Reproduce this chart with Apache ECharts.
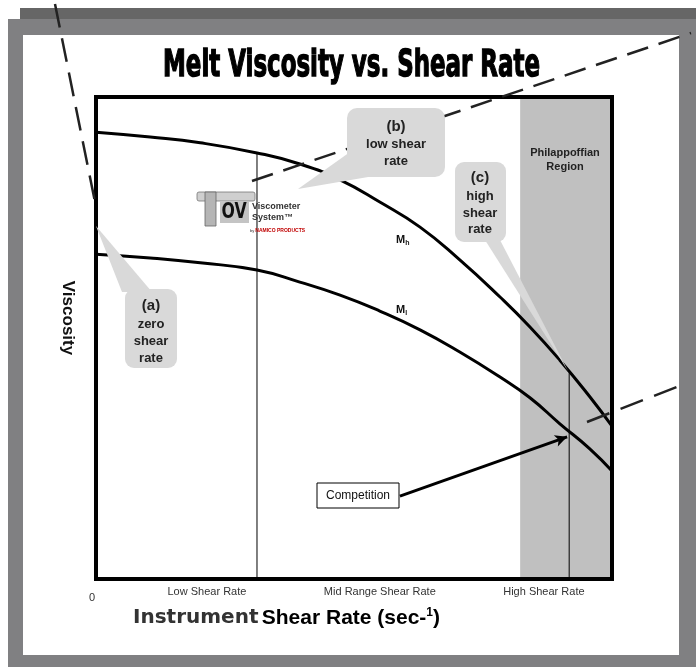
<!DOCTYPE html>
<html>
<head>
<meta charset="utf-8">
<script src="https://cdn.jsdelivr.net/npm/echarts@6/dist/echarts.min.js"></script>
<style>
  html, body { margin: 0; padding: 0; background: #fff; }
  #chart { width: 696px; height: 667px; }
</style>
</head>
<body>
<div id="chart"></div>
<script>
// x = shear rate, y = viscosity, both in arbitrary units (0-100 across the plot box)
const shearRate = [0, 10.5, 20.2, 31.2, 39.5, 47.3, 55.0, 62.8, 70.5, 78.3, 84.1, 89.9, 95.7, 100]
const viscosityMh = [92.7, 91.7, 90.5, 88.4, 86.1, 82.8, 78.2, 73.0, 66.2, 58.5, 52.3, 45.4, 37.8, 31.7]
const viscosityMl = [67.4, 66.6, 65.6, 64.1, 61.6, 58.9, 55.6, 51.7, 47.1, 41.9, 37.6, 32.2, 27.0, 22.4]
const tickValues = [0, 21.5, 55, 86.8]
const tickLabels = ['0', 'Low Shear Rate', 'Mid Range Shear Rate', 'High Shear Rate']
const regionStart = 82.2 // Philappoffian region up to the end of the axis
const lowShearGuide = [[31.2, 88.4], [31.2, 0]]
const highShearGuide = [[91.7, 42.7], [91.7, 0]]
const competitionArrow = [[58.9, 17.2], [91.3, 29.5]]

const title = 'Melt Viscosity vs. Shear Rate'
const titleFont = 'bold 38px "DejaVu Sans"'
const ctx = document.createElement('canvas').getContext('2d')
ctx.font = titleFont
const titleScale = 377 / ctx.measureText(title).width

const zip = (xs, ys) => xs.map((x, i) => [x, ys[i]])

const boxFill = '#d9d9d9'
const txt = (x, y, text, size, extra) => Object.assign({
  type: 'text', x: x, y: y, z: 100,
  style: { text: text, fill: '#222', font: 'bold ' + size + 'px "Liberation Sans", Arial', align: 'center', verticalAlign: 'middle' }
}, extra || {})
const dashed = (x1, y1, x2, y2, dash) => ({
  type: 'line', z: 85,
  shape: { x1: x1, y1: y1, x2: x2, y2: y2 },
  style: { stroke: '#222', lineWidth: 2.5, lineDash: dash }
})

const frame = [
  { type: 'rect', z: -10, shape: { x: 20, y: 8, width: 676, height: 12 }, style: { fill: '#666666' } },
  { type: 'rect', z: -10, shape: { x: 8, y: 19, width: 688, height: 648 }, style: { fill: '#808082' } },
  { type: 'rect', z: -9, shape: { x: 23, y: 35, width: 656, height: 620 }, style: { fill: '#ffffff' } }
]

const callouts = [
  // (a) zero shear rate
  { type: 'polygon', z: 90, shape: { points: [[96, 226], [122, 292], [152, 292]] }, style: { fill: boxFill } },
  { type: 'rect', z: 90, shape: { x: 125, y: 289, width: 52, height: 79, r: 9 }, style: { fill: boxFill } },
  txt(151, 306, '(a)', 15), txt(151, 324, 'zero', 13), txt(151, 341, 'shear', 13), txt(151, 358, 'rate', 13),
  // (b) low shear rate
  { type: 'polygon', z: 90, shape: { points: [[298, 189], [350, 152], [374, 176]] }, style: { fill: boxFill } },
  { type: 'rect', z: 90, shape: { x: 347, y: 108, width: 98, height: 69, r: 10 }, style: { fill: boxFill } },
  txt(396, 127, '(b)', 15), txt(396, 144, 'low shear', 13), txt(396, 161, 'rate', 13),
  // (c) high shear rate
  { type: 'polygon', z: 90, shape: { points: [[568, 371], [485, 240], [500, 240]] }, style: { fill: boxFill } },
  { type: 'rect', z: 90, shape: { x: 455, y: 162, width: 51, height: 80, r: 9 }, style: { fill: boxFill } },
  txt(480, 178, '(c)', 15), txt(480, 196, 'high', 13), txt(480, 213, 'shear', 13), txt(480, 229, 'rate', 13),
  // region name
  txt(565, 153, 'Philappoffian', 11), txt(565, 167, 'Region', 11),
  // competition box
  { type: 'rect', z: 90, shape: { x: 317, y: 483, width: 82, height: 25 }, style: { fill: '#fff', stroke: '#000', lineWidth: 1 } },
  { type: 'text', z: 100, x: 358, y: 496, style: { text: 'Competition', fill: '#111', font: '12px "Liberation Sans", Arial', align: 'center', verticalAlign: 'middle' } },
  // curve names
  { type: 'text', z: 100, x: 396, y: 240, style: { text: '{m|M}{s|h}', align: 'left', verticalAlign: 'middle',
    rich: { m: { font: 'bold 11px "Liberation Sans"', fill: '#111' }, s: { font: 'bold 7px "Liberation Sans"', fill: '#111', padding: [6, 0, 0, 0] } } } },
  { type: 'text', z: 100, x: 396, y: 310, style: { text: '{m|M}{s|l}', align: 'left', verticalAlign: 'middle',
    rich: { m: { font: 'bold 11px "Liberation Sans"', fill: '#111' }, s: { font: 'bold 7px "Liberation Sans"', fill: '#111', padding: [6, 0, 0, 0] } } } }
]

const logo = [
  { type: 'rect', z: 95, shape: { x: 197, y: 192, width: 58, height: 9, r: 2 }, style: { fill: '#cfcfcf', stroke: '#777', lineWidth: 0.8 } },
  { type: 'rect', z: 95, shape: { x: 205, y: 192, width: 11, height: 34 }, style: { fill: '#b5b5b5', stroke: '#666', lineWidth: 0.8 } },
  { type: 'rect', z: 95, shape: { x: 220, y: 201, width: 29, height: 22 }, style: { fill: '#c4c4c4' } },
  { type: 'text', z: 96, x: 234, y: 213, scaleX: 0.75, style: { text: 'OV', fill: '#111', font: 'bold 21px "DejaVu Sans"', align: 'center', verticalAlign: 'middle' } },
  { type: 'text', z: 96, x: 252, y: 207, style: { text: 'Viscometer', fill: '#333', font: 'bold 9px "Liberation Sans"', align: 'left', verticalAlign: 'middle' } },
  { type: 'text', z: 96, x: 252, y: 218, style: { text: 'System™', fill: '#333', font: 'bold 9px "Liberation Sans"', align: 'left', verticalAlign: 'middle' } },
  { type: 'text', z: 96, x: 250, y: 231, style: { text: '{b|by }{n|NAMICO PRODUCTS}', align: 'left', verticalAlign: 'middle',
    rich: { b: { font: '4px "Liberation Sans"', fill: '#333' }, n: { font: 'bold 5px "Liberation Sans"', fill: '#c00000' } } } }
]

const labels = [
  { type: 'text', z: 100, x: 351.5, y: 66, scaleX: titleScale,
    style: { text: title, fill: '#000', stroke: '#000', lineWidth: 1.5, font: titleFont, align: 'center', verticalAlign: 'middle' } },
  { type: 'text', z: 100, x: 68, y: 318, rotation: -Math.PI / 2,
    style: { text: 'Viscosity', fill: '#111', font: 'bold 17px "Liberation Sans", Arial', align: 'center', verticalAlign: 'middle' } },
  { type: 'text', z: 100, x: 133, y: 618,
    style: { text: '{a|Instrument} {b|Shear Rate (sec-}{s|1}{b|)}', align: 'left', verticalAlign: 'middle',
      rich: {
        a: { font: 'bold 20px "DejaVu Sans"', fill: '#333' },
        b: { font: 'bold 21px "Liberation Sans", Arial', fill: '#000' },
        s: { font: 'bold 12px "Liberation Sans", Arial', fill: '#000', padding: [0, 0, 10, 0] }
      } } }
]

const lines = [
  dashed(55, 4, 96, 207, [24, 11]),
  dashed(252, 181, 691, 33, [22, 11]),
  dashed(587, 422, 687, 383, [24, 12])
]

const chart = echarts.init(document.getElementById('chart'), null, { renderer: 'canvas' })

const boxAxis = {
  axisLine: { show: true, onZero: false, lineStyle: { color: '#000', width: 4, cap: 'square' } },
  axisTick: { show: false },
  splitLine: { show: false },
  axisLabel: { show: false },
  min: 0,
  max: 100,
  type: 'value',
  z: 10
}

chart.setOption({
  backgroundColor: '#fff',
  animation: false,
  grid: { left: 96, top: 97, width: 516, height: 482 },
  xAxis: [
    Object.assign({}, boxAxis, {
      position: 'bottom',
      axisLabel: {
        show: true,
        customValues: tickValues,
        color: '#333',
        fontSize: 11,
        fontFamily: '"Liberation Sans", Arial',
        margin: 7,
        formatter: (v) => {
          const i = tickValues.indexOf(v)
          return i === 0 ? '{z|' + tickLabels[0] + '}' : tickLabels[i]
        },
        rich: { z: { fontSize: 11, color: '#333', padding: [6, 8, 0, 0] } }
      }
    }),
    Object.assign({}, boxAxis, { position: 'top' })
  ],
  yAxis: [
    Object.assign({}, boxAxis, { position: 'left' }),
    Object.assign({}, boxAxis, { position: 'right' })
  ],
  series: [
    {
      type: 'line',
      data: [],
      z: 1,
      markArea: {
        silent: true,
        itemStyle: { color: '#c0c0c0' },
        data: [[{ xAxis: regionStart }, { xAxis: 100 }]]
      }
    },
    {
      name: 'Mh',
      type: 'line',
      data: zip(shearRate, viscosityMh),
      smooth: 0.5,
      symbol: 'none',
      lineStyle: { color: '#000', width: 3 },
      z: 4
    },
    {
      name: 'Ml',
      type: 'line',
      data: zip(shearRate, viscosityMl),
      smooth: 0.5,
      symbol: 'none',
      lineStyle: { color: '#000', width: 3 },
      z: 4
    },
    {
      type: 'line',
      data: lowShearGuide,
      symbol: 'none',
      lineStyle: { color: '#000', width: 1 },
      z: 3
    },
    {
      type: 'line',
      data: highShearGuide,
      symbol: 'none',
      lineStyle: { color: '#000', width: 1 },
      z: 3
    },
    {
      type: 'line',
      data: [],
      z: 5,
      markLine: {
        silent: true,
        symbol: ['none', 'arrow'],
        symbolSize: [9, 12],
        label: { show: false },
        lineStyle: { color: '#000', width: 3, type: 'solid' },
        data: [[{ coord: competitionArrow[0] }, { coord: competitionArrow[1] }]]
      }
    }
  ],
  graphic: { elements: frame.concat(logo, callouts, labels, lines) }
})
</script>
</body>
</html>
